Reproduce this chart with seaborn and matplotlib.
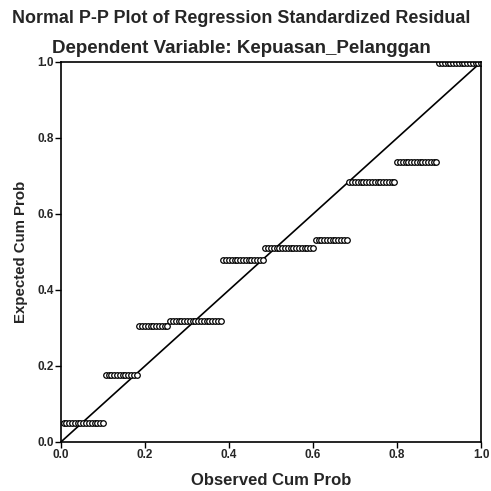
import numpy as np
import pandas as pd
import matplotlib
matplotlib.use("Agg")
import matplotlib.pyplot as plt
import seaborn as sns

# Data: groups of tied residuals
group_counts = [15, 12, 11, 19, 15, 18, 12, 17, 15, 16]
group_expected = [0.050, 0.175, 0.305, 0.318, 0.480, 0.510, 0.532, 0.685, 0.738, 0.997]
tick_values = [0.0, 0.2, 0.4, 0.6, 0.8, 1.0]
tick_labels = ["0.0", "0.2", "0.4", "0.6", "0.8", "1.0"]

n_total = sum(group_counts)
expected = np.repeat(group_expected, group_counts)
observed = np.arange(1, n_total + 1) / n_total
df = pd.DataFrame({"Observed Cum Prob": observed, "Expected Cum Prob": expected})

sns.set_theme(style="white")
plt.rcParams['font.family'] = ['Liberation Sans', 'DejaVu Sans']

fig = plt.figure(figsize=(4.91, 4.91), dpi=100)
ax = fig.add_axes([0.124, 0.0998, 0.856, 0.774])

ax.plot([0, 1], [0, 1], color="black", lw=1.2, zorder=1)
sns.scatterplot(data=df, x="Observed Cum Prob", y="Expected Cum Prob", ax=ax,
                marker="o", s=16, facecolor="white", edgecolor="black",
                linewidth=0.9, zorder=2)

ax.set_xlim(0, 1)
ax.set_ylim(0, 1)
ax.set_xticks(tick_values)
ax.set_xticklabels(tick_labels)
ax.set_yticks(tick_values)
ax.set_yticklabels(tick_labels)
for sp in ax.spines.values():
    sp.set_color("black")
    sp.set_linewidth(1.2)
ax.tick_params(axis="both", direction="out", length=4, width=1, color="black",
               labelsize=8.5, pad=1, bottom=True, left=True)
for lab in ax.get_xticklabels() + ax.get_yticklabels():
    lab.set_fontweight("bold")

ax.set_xlabel("Observed Cum Prob", fontsize=12, fontweight="bold", labelpad=9)
ax.set_ylabel("Expected Cum Prob", fontsize=10.8, fontweight="bold", labelpad=7)

fig.text(0.024, 0.962, "Normal P-P Plot of Regression Standardized Residual",
         fontsize=12.9, fontweight="bold", ha="left", va="center")
fig.text(0.492, 0.902, "Dependent Variable: Kepuasan_Pelanggan",
         fontsize=13.5, fontweight="bold", ha="center", va="center")

fig.savefig("out.png", dpi=100, facecolor="white")
